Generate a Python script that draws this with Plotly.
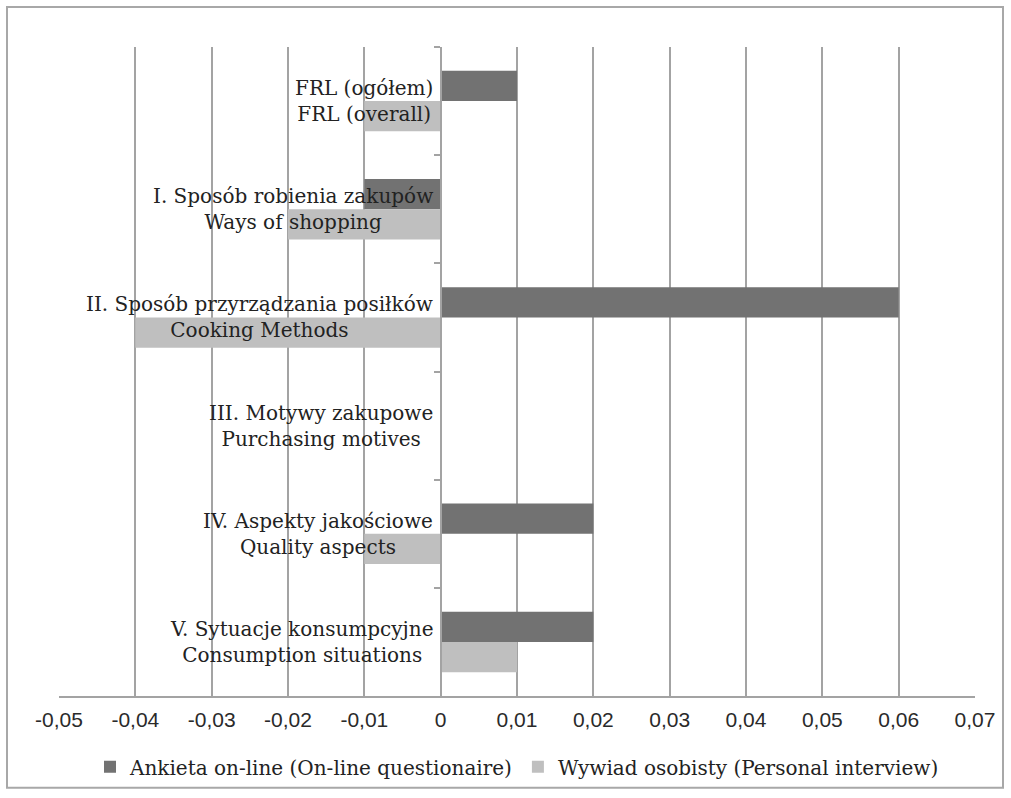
import plotly.graph_objects as go

categories_pl = [
    "FRL (ogółem)",
    "I. Sposób robienia zakupów",
    "II. Sposób przyrządzania posiłków",
    "III. Motywy zakupowe",
    "IV. Aspekty jakościowe",
    "V. Sytuacje konsumpcyjne",
]
categories_en = [
    "FRL (overall)",
    "Ways of shopping",
    "Cooking Methods",
    "Purchasing motives",
    "Quality aspects",
    "Consumption situations",
]
online = [0.01, -0.01, 0.06, 0.0, 0.02, 0.02]
interview = [-0.01, -0.02, -0.04, 0.0, -0.01, 0.01]
series_names = ["Ankieta on-line (On-line questionaire)", "Wywiad osobisty (Personal interview)"]
tick_vals = [-0.05, -0.04, -0.03, -0.02, -0.01, 0, 0.01, 0.02, 0.03, 0.04, 0.05, 0.06, 0.07]
tick_text = ["-0,05", "-0,04", "-0,03", "-0,02", "-0,01", "0", "0,01", "0,02", "0,03", "0,04", "0,05", "0,06", "0,07"]

x_min, x_max = -0.05, 0.07
grid_color = "#a3a3a3"
serif = "DejaVu Serif"

fig = go.Figure()
fig.add_trace(go.Bar(y=categories_pl, x=online, orientation="h", name=series_names[0],
                     marker=dict(color="#727272", line=dict(width=0))))
fig.add_trace(go.Bar(y=categories_pl, x=interview, orientation="h", name=series_names[1],
                     marker=dict(color="#bfbfbf", line=dict(width=0))))

for pl, en in zip(categories_pl, categories_en):
    fig.add_annotation(x=0, y=pl, xref="x", yref="y", text=pl + "<br>" + en,
                       showarrow=False, xanchor="right", yanchor="middle", align="center",
                       xshift=-6, font=dict(family=serif, size=20, color="#222222"))

zero_pos = (0 - x_min) / (x_max - x_min)

fig.update_layout(
    width=1011, height=798,
    margin=dict(l=59, r=36, t=47, b=100),
    paper_bgcolor="white", plot_bgcolor="white",
    barmode="group", bargap=0.44, bargroupgap=0,
    showlegend=True,
    legend=dict(orientation="h", x=0.5, xanchor="center", y=-0.109, yanchor="middle",
                font=dict(family=serif, size=20, color="#222222"),
                itemwidth=30, traceorder="normal"),
    xaxis=dict(range=[x_min, x_max], tickvals=tick_vals, ticktext=tick_text,
               showgrid=True, gridcolor=grid_color, gridwidth=1.5,
               zeroline=False, showline=True, linecolor=grid_color, linewidth=1.5,
               ticks="", ticklabelstandoff=4,
               tickfont=dict(family="Liberation Sans", size=21, color="#2a2a2a")),
    yaxis=dict(type="category", autorange="reversed", anchor="free", position=zero_pos,
               showgrid=False, zeroline=False, showline=True, linecolor=grid_color, linewidth=1.5,
               ticks="outside", ticklen=6, tickcolor=grid_color, tickwidth=1.5, tickson="boundaries",
               showticklabels=False),
)

fig.add_shape(type="rect", xref="paper", yref="paper",
              x0=(7 - 59) / 916, x1=(1003 - 59) / 916,
              y0=(698 - 790) / 651, y1=(698 - 7) / 651,
              line=dict(color="#a8a8a8", width=2), fillcolor="rgba(0,0,0,0)", layer="below")

fig.write_html("out.html", config={"displayModeBar": False},
               post_script="document.body.style.margin='0';")
